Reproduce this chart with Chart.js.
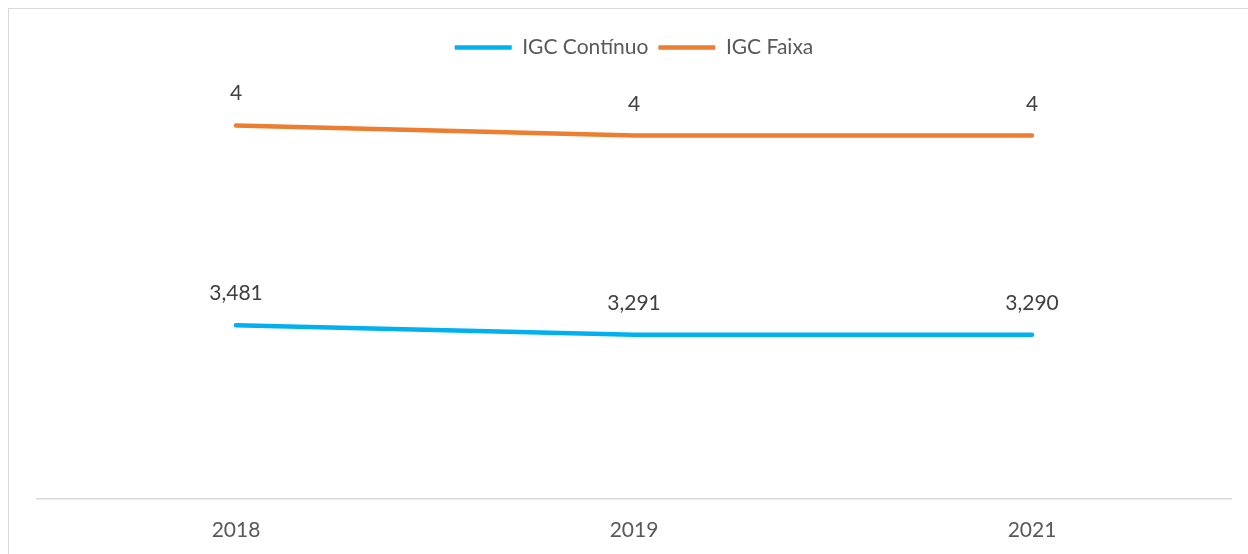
<!DOCTYPE html>
<html>
<head>
<meta charset="utf-8">
<script src="https://cdn.jsdelivr.net/npm/chart.js@4/dist/chart.umd.min.js"></script>
<style>
  html, body { margin: 0; padding: 0; background: #fff; overflow: hidden; }
  #frame { position: absolute; left: 8px; top: 8px; width: 1400px; height: 700px; border: 1px solid #d9d9d9; }
  #wrap { position: absolute; left: 0; top: 0; width: 1248px; height: 566px; }
</style>
</head>
<body>
<div id="frame"></div>
<div id="wrap"><canvas id="chart"></canvas></div>
<script>
const years = ["2018", "2019", "2021"];
const igcContinuo = [3.481, 3.291, 3.290];
const igcFaixa = [4.42, 4.30, 4.30];       // shown as "4" (rounded), on its own axis
const faixaLabels = ["4", "4", "4"];

const fontFamily = "Lato, 'Open Sans', sans-serif";

// draws value labels above each point
const pointLabels = {
    id: "pointLabels",
    afterDatasetsDraw(chart) {
        const ctx = chart.ctx;
        ctx.save();
        ctx.font = `21px ${fontFamily}`;
        ctx.fillStyle = "#404040";
        ctx.textAlign = "center";
        ctx.textBaseline = "alphabetic";
        chart.data.datasets.forEach((ds, i) => {
            chart.getDatasetMeta(i).data.forEach((pt, j) => {
                const text = ds.labelsText ? ds.labelsText[j]
                    : ds.data[j].toFixed(3).replace(".", ",");
                ctx.fillText(text, pt.x, pt.y - 25);
            });
        });
        ctx.restore();
    }
};

new Chart(document.getElementById("chart"), {
    type: "line",
    data: {
        labels: years,
        datasets: [
            {
                label: "IGC Contínuo",
                data: igcContinuo,
                borderColor: "#00B0F0",
                backgroundColor: "#00B0F0",
                borderWidth: 4.5,
                borderCapStyle: "round",
                pointRadius: 0,
                yAxisID: "y",
            },
            {
                label: "IGC Faixa",
                data: igcFaixa,
                labelsText: faixaLabels,
                borderColor: "#ED7D31",
                backgroundColor: "#ED7D31",
                borderWidth: 4.5,
                borderCapStyle: "round",
                pointRadius: 0,
                yAxisID: "y2",
            },
        ],
    },
    options: {
        responsive: true,
        maintainAspectRatio: false,
        animation: false,
        layout: { padding: { left: 37, right: 17, top: 27, bottom: 12 } },
        scales: {
            x: {
                offset: true,
                grid: { display: false },
                border: { display: true, color: "#d9d9d9", width: 1.5 },
                ticks: { color: "#595959", padding: 11, font: { family: fontFamily, size: 21 } },
            },
            y: { display: false, min: 0, max: 8.64 },
            y2: { display: false, min: 0, max: 5.1 },
        },
        plugins: {
            tooltip: { enabled: false },
            legend: {
                position: "top",
                labels: {
                    usePointStyle: true,
                    pointStyle: "line",
                    pointStyleWidth: 57,
                    color: "#595959",
                    padding: 10,
                    font: { family: fontFamily, size: 21 },
                },
            },
        },
    },
    plugins: [pointLabels],
});
</script>
</body>
</html>
